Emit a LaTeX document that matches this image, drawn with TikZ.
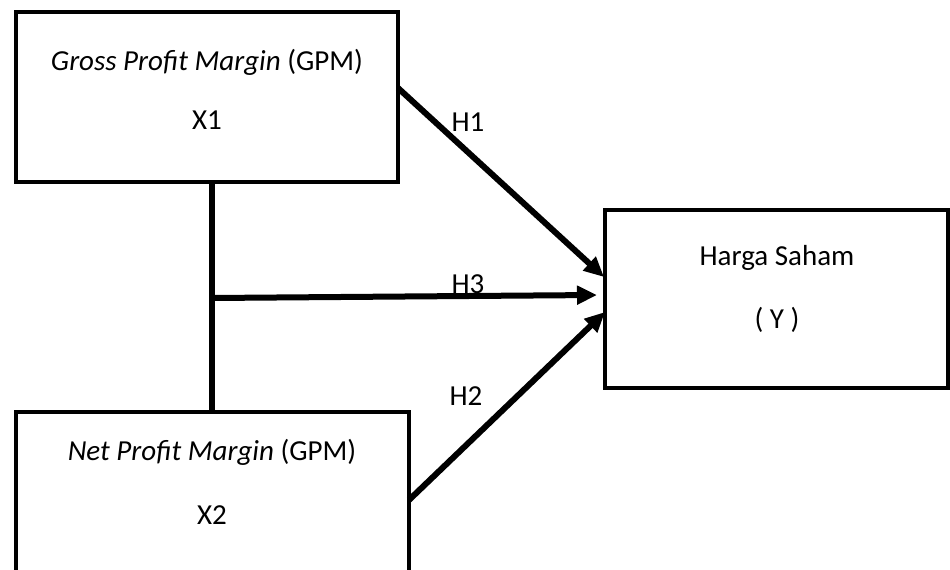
\documentclass[tikz,border=0pt]{standalone}
\usepackage{fontspec}
\setmainfont{Carlito}
\usetikzlibrary{arrows.meta,calc}
\begin{document}
\begin{tikzpicture}[x=1pt,y=-1pt,
  varbox/.style={draw=black,line width=4.5pt,rectangle,inner sep=0pt,fill=none},
  txt/.style={font=\fontsize{29}{34}\selectfont,inner sep=0pt},
  hyp/.style={font=\fontsize{29}{34}\selectfont,inner sep=0pt},
  link/.style={line width=6pt,-{Triangle[length=20pt,width=18pt]}},
  bar/.style={line width=6pt}]
\useasboundingbox (0,0) rectangle (950,570);
\clip (0,0) rectangle (950,570);
\fill[white] (0,0) rectangle (950,570);

% independent and dependent variable boxes
\node[varbox,minimum width=382pt,minimum height=170pt] (gpm) at (207,97) {};
\node[varbox,minimum width=393pt,minimum height=190pt] (npm) at (212.5,507) {};
\node[varbox,minimum width=343pt,minimum height=178pt] (harga) at (776.5,299) {};

% box texts
\node[txt] (gpmt) at (207,62) {\textit{Gross Profit Margin} (GPM)};
\node[txt] (gpmx) at (207,120) {X1};
\node[txt] (npmt) at (212,452) {\textit{Net Profit Margin} (GPM)};
\node[txt] (npmx) at (212,515) {X2};
\node[txt] (hargat) at (777,258) {Harga Saham};
\node[txt] (hargay) at (777,320) {( Y )};

% joint link between X1 and X2
\coordinate (j) at (212,298);
\draw[bar] (gpm.south -| j) -- (npm.north -| j);

% hypothesis arrows
\coordinate (h1s) at (398,88);
\coordinate (h1e) at (604,277);
\coordinate (h3e) at (597,295);
\coordinate (h2s) at (409,500);
\coordinate (h2e) at (605,312);
\draw[link] (h1s) -- (h1e);
\draw[link] (j) -- (h3e);
\draw[link] (h2s) -- (h2e);

% hypothesis labels
\node[hyp] (l1) at (468,122) {H1};
\node[hyp] (l3) at (468,284) {H3};
\node[hyp] (l2) at (466,396) {H2};
\end{tikzpicture}
\end{document}
